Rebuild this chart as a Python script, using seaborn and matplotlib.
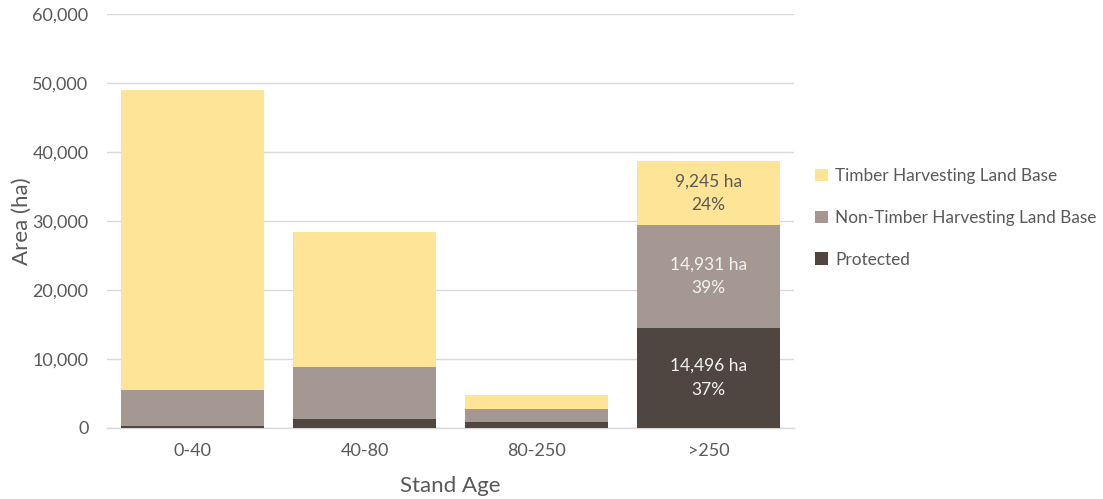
import numpy as np
import pandas as pd
import matplotlib
matplotlib.use("Agg")
import matplotlib.pyplot as plt
from matplotlib.patches import Patch
import seaborn as sns

# Stand age classes and area (ha) per land-base category
stand_age = ["0-40", "40-80", "80-250", ">250"]
protected = [250, 1260, 830, 14496]
non_thlb = [5250, 7620, 1870, 14931]
thlb = [43450, 19545, 2080, 9245]

series_names = ["Protected", "Non-Timber Harvesting Land Base", "Timber Harvesting Land Base"]
series_values = [protected, non_thlb, thlb]
colors = {"Protected": "#4F4541",
          "Non-Timber Harvesting Land Base": "#A59892",
          "Timber Harvesting Land Base": "#FEE496"}
label_colors = {"Protected": "#F2F2F2",
                "Non-Timber Harvesting Land Base": "#F2F2F2",
                "Timber Harvesting Land Base": "#595959"}

yticks = [0, 10000, 20000, 30000, 40000, 50000, 60000]

sns.set_theme(style="white")
plt.rcParams["font.family"] = ["Lato", "DejaVu Sans"]

fig = plt.figure(figsize=(11.03, 4.99), dpi=100)
ax = fig.add_axes([0.0966, 0.1423, 0.6237, 0.8297])

bottom = np.zeros(len(stand_age))
for name, vals in zip(series_names, series_values):
    df = pd.DataFrame({"age": stand_age, "area": vals})
    sns.barplot(data=df, x="age", y="area", order=stand_age, color=colors[name],
                width=0.83, bottom=bottom.copy(), saturation=1, errorbar=None,
                linewidth=0, ax=ax, zorder=3)
    bottom += np.array(vals)

# Labels on the oldest stand class
last = len(stand_age) - 1
total_last = sum(v[last] for v in series_values)
base = 0
for name, vals in zip(series_names, series_values):
    v = vals[last]
    pct = round(100 * v / total_last)
    ax.text(last, base + v / 2, f"{v:,} ha\n{pct}%", ha="center", va="center",
            fontsize=12.5, color=label_colors[name], linespacing=1.6, zorder=4)
    base += v

ax.set_ylim(0, 60000)
ax.set_xlim(-0.5, len(stand_age) - 0.5)
ax.set_yticks(yticks)
ax.set_yticklabels([f"{t:,}" for t in yticks])
ax.yaxis.grid(True, color="#D9D9D9", linewidth=1, zorder=0)
ax.xaxis.grid(False)
for s in ["top", "right", "left"]:
    ax.spines[s].set_visible(False)
ax.spines["bottom"].set_color("#D9D9D9")
ax.spines["bottom"].set_linewidth(1)
ax.tick_params(axis="both", length=0, labelsize=13, labelcolor="#595959")
ax.tick_params(axis="y", pad=13)
ax.tick_params(axis="x", pad=11)
ax.set_xlabel("Stand Age", fontsize=16, color="#595959", labelpad=12)
ax.set_ylabel("Area (ha)", fontsize=16, color="#595959")
ax.yaxis.set_label_coords(-0.108, 0.5)

handles = [Patch(facecolor=colors[n], edgecolor="none") for n in reversed(series_names)]
leg = fig.legend(handles, list(reversed(series_names)), loc="upper left",
                 bbox_to_anchor=(0.733, 0.677), frameon=False, fontsize=12.4,
                 handlelength=0.75, handleheight=0.75, handletextpad=0.4,
                 labelspacing=1.5, labelcolor="#595959", borderaxespad=0)

fig.savefig("out.png", dpi=100, facecolor="white")
